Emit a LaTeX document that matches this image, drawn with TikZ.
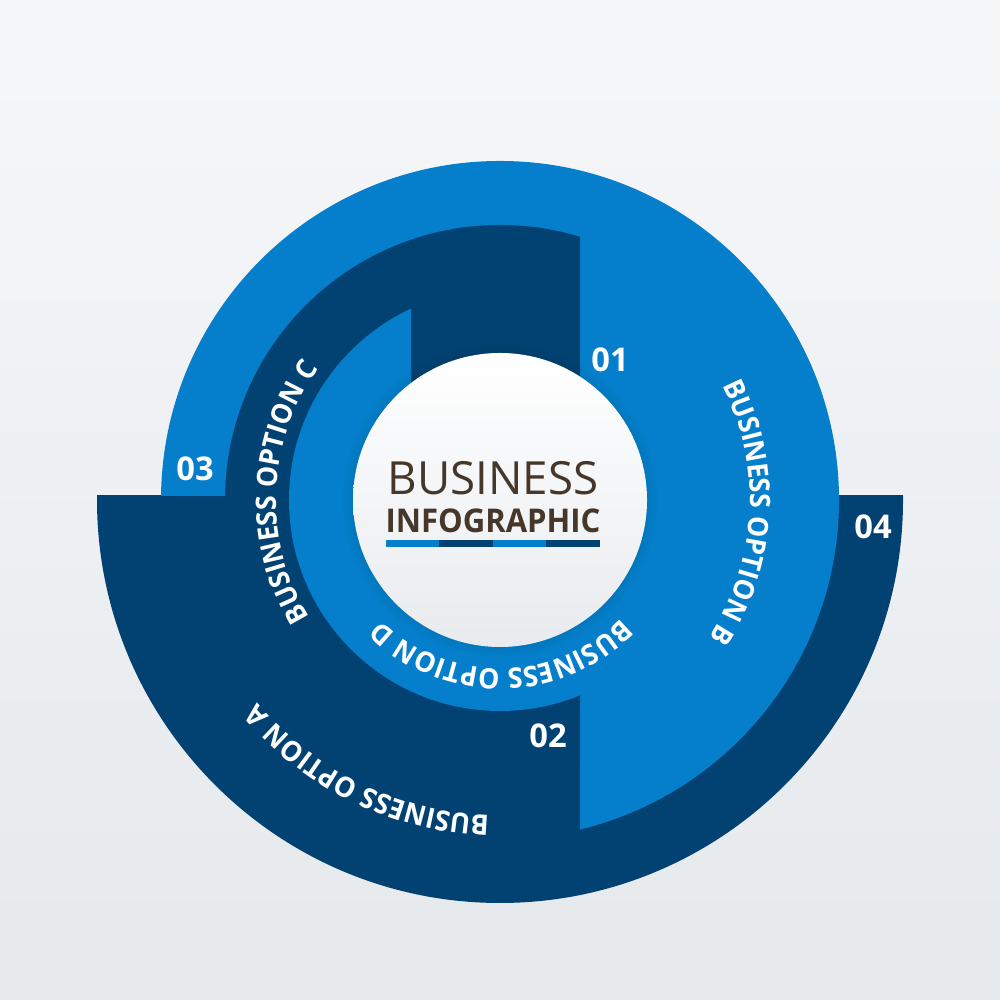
\documentclass[tikz,border=0pt]{standalone}
\usepackage{fontspec}
\setmainfont{Open Sans}
\newfontfamily\narrowfam[FakeStretch=0.95]{Open Sans}
\usetikzlibrary{decorations.text}
\definecolor{lightblue}{HTML}{057FCB}
\definecolor{darkblue}{HTML}{024272}
\definecolor{ink}{HTML}{46372B}
\definecolor{bgA}{HTML}{F5F7F9}
\definecolor{bgB}{HTML}{E6E9EC}
\definecolor{discB}{HTML}{E8EBEE}
\newcommand{\ringfont}{\narrowfam\fontsize{8}{9}\bfseries\selectfont}
\tikzset{
  ringtext/.style={decorate,decoration={text along path,text align=center,text color=white,text={|\ringfont|#1}}},
  numlabel/.style={text=white,font=\fontsize{9.3}{11}\bfseries\selectfont,inner sep=0pt},
}
\begin{document}
\begin{tikzpicture}
\useasboundingbox (0,0) rectangle (10,10);
\shade[shading angle=155,top color=bgA,bottom color=bgB] (0,0) rectangle (10,10);
\coordinate (c) at (5,5);
% outer dark half ring
\begin{scope}
  \clip (0,0) rectangle (10,5.04);
  \fill[darkblue] (c) circle[radius=4.03];
\end{scope}
% big light ring
\begin{scope}
  \clip (0,5.04) -- (5.8,5.04) -- (5.8,0) -- (10,0) -- (10,10) -- (0,10) -- cycle;
  \fill[lightblue] (c) circle[radius=3.39];
\end{scope}
% middle dark ring
\begin{scope}
  \clip (0,0) rectangle (5.8,10);
  \fill[darkblue] (c) circle[radius=2.75];
\end{scope}
% inner light ring
\begin{scope}
  \clip (0,0) -- (10,0) -- (10,5) -- (4.11,5) -- (4.11,10) -- (0,10) -- cycle;
  \fill[lightblue] (c) circle[radius=2.11];
\end{scope}
% disc shadow
\foreach \r in {1.57,1.54,1.51,1.49}{
  \fill[black!60!darkblue,opacity=0.02] (c) circle[radius=\r];
}
\shade[top color=white,bottom color=discB] (c) circle[radius=1.47];
% curved labels
\path[ringtext={BUSINESS OPTION B}] (c) ++(30:2.50) arc[start angle=30,end angle=-36,radius=2.50];
\path[ringtext={BUSINESS OPTION A}] (c) ++(274:3.16) arc[start angle=274,end angle=214,radius=3.16];
\path[ringtext={BUSINESS OPTION C}] (c) ++(215.3:2.24) arc[start angle=215.3,end angle=140.3,radius=2.24];
\path[ringtext={BUSINESS OPTION D}] (c) ++(-38:1.69) arc[start angle=-38,end angle=-141,radius=1.69];
% numbers
\node[numlabel] (n1) at (6.10,6.40) {01};
\node[numlabel] (n2) at (5.48,2.64) {02};
\node[numlabel] (n3) at (1.95,5.31) {03};
\node[numlabel] (n4) at (8.73,4.73) {04};
% title
\node[text=ink,font=\fontsize{13}{14}\selectfont,inner sep=0pt] (t1) at (4.93,5.22) {BUSINESS};
\node[text=ink,font=\narrowfam\fontsize{9.3}{11}\bfseries\selectfont,inner sep=0pt] (t2) at (4.93,4.79) {INFOGRAPHIC};
\fill[lightblue] (3.86,4.53) rectangle (4.393,4.60);
\fill[darkblue] (4.393,4.53) rectangle (4.927,4.60);
\fill[lightblue] (4.927,4.53) rectangle (5.46,4.60);
\fill[darkblue] (5.46,4.53) rectangle (6.0,4.60);
\end{tikzpicture}
\end{document}
